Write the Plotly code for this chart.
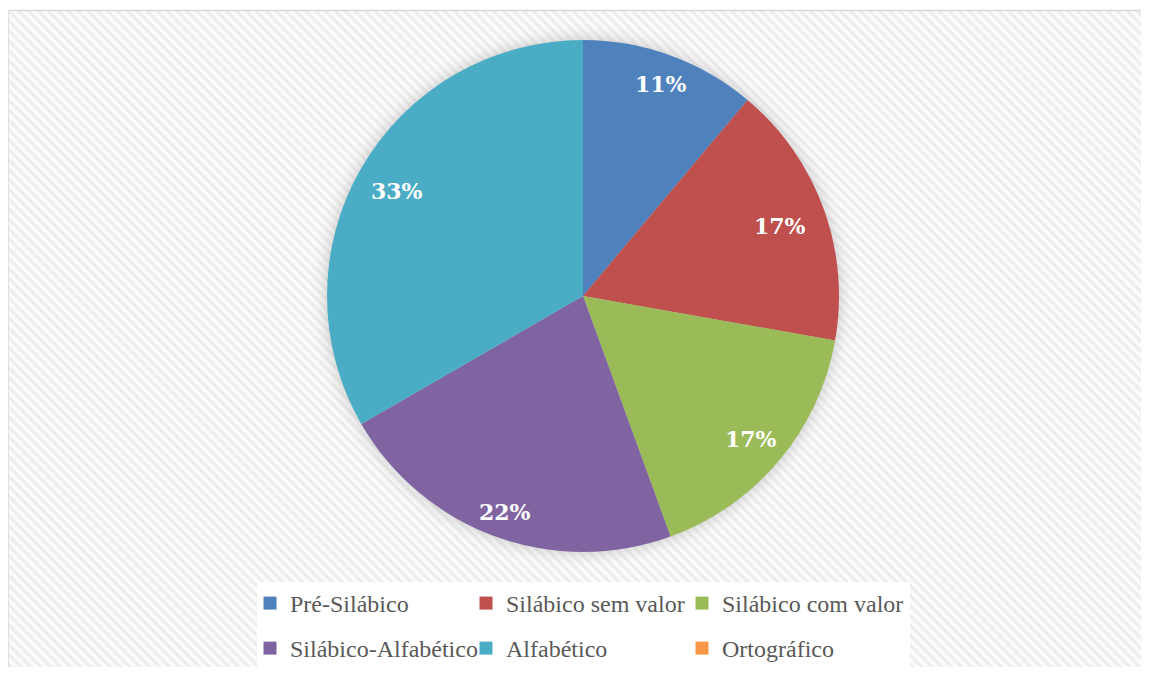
import base64
import numpy as np
import plotly.graph_objects as go

# dados
categorias = ["Pré-Silábico", "Silábico sem valor", "Silábico com valor",
              "Silábico-Alfabético", "Alfabético", "Ortográfico"]
alunos = [2, 3, 3, 4, 6, 0]
cores = ["#4F81BD", "#C0504D", "#9BBB59", "#8064A2", "#4BACC6", "#F79646"]

# page body has an 8px margin, so the figure is a bit smaller than the window
W, H = 1141, 659
L, R, T, B = 100, 100, 32, 115
gw, gh = W - L - R, H - T - B
cx, cy, rad = 575, T + gh / 2, 256

# hatched background, border and a soft shadow round the pie
svg = f"""<svg xmlns='http://www.w3.org/2000/svg' width='{W}' height='{H}' viewBox='0 0 {W} {H}' preserveAspectRatio='none'>
<defs>
<pattern id='p' width='7' height='7' patternUnits='userSpaceOnUse' patternTransform='rotate(45)'>
<rect width='7' height='7' fill='#fbfbfb'/><rect width='7' height='3.2' fill='#ededed'/>
</pattern>
<filter id='s' x='-20%' y='-20%' width='140%' height='140%'><feGaussianBlur stdDeviation='7'/></filter>
</defs>
<rect x='0' y='0' width='{W}' height='{H}' fill='white'/>
<rect x='0' y='2.5' width='{W + 10}' height='{H + 10}' fill='url(#p)' stroke='#d9d9d9' stroke-width='1.5'/>
<circle cx='{cx}' cy='{cy}' r='{rad + 2}' fill='#9a9a9a' opacity='0.45' filter='url(#s)'/>
<rect x='249' y='574' width='653' height='90' fill='white'/>
</svg>"""
src = "data:image/svg+xml;base64," + base64.b64encode(svg.encode()).decode()

fig = go.Figure()
fig.add_trace(go.Pie(
    labels=categorias, values=alunos, sort=False, direction="clockwise", rotation=0,
    marker=dict(colors=cores, line=dict(width=0)),
    textinfo="none", hoverinfo="label+percent", showlegend=False,
    domain=dict(x=[(cx - rad - L) / gw, (cx + rad - L) / gw], y=[0, 1]),
))

# legend in two rows of three, like the original
for i, (nome, cor) in enumerate(zip(categorias, cores)):
    fig.add_trace(go.Scatter(
        x=[None], y=[None], mode="markers", name=nome,
        marker=dict(symbol="square", size=13, color=cor),
        legend="legend" if i < 3 else "legend2", hoverinfo="skip",
        legendwidth=205 if i % 3 == 2 else 171,
    ))

# percent labels placed like Excel's
total = sum(alunos)
acc = 0
for v in alunos:
    if v > 0:
        th = 2 * np.pi * (acc + v / 2) / total
        rr = (0.78 + 0.117 * abs(np.cos(th))) * rad
        fig.add_annotation(
            x=(cx - L + rr * np.sin(th)) / gw, y=0.5 + rr * np.cos(th) / gh - 2 / gh,
            xref="paper", yref="paper", xanchor="center", yanchor="middle",
            showarrow=False, text=f"<b>{round(100 * v / total)}%</b>",
            font=dict(family="DejaVu Serif", size=22, color="white"),
        )
    acc += v

leg = dict(
    orientation="h", xref="container", yref="container",
    x=242 / W, xanchor="left", yanchor="top",
    entrywidthmode="pixels", itemsizing="trace",
    font=dict(family="Liberation Serif", size=24, color="#595959"),
    bgcolor="rgba(0,0,0,0)", traceorder="normal",
)
fig.update_layout(
    width=W, height=H,
    margin=dict(l=L, r=R, t=T, b=B, autoexpand=False),
    paper_bgcolor="rgba(0,0,0,0)", plot_bgcolor="rgba(0,0,0,0)",
    xaxis=dict(visible=False), yaxis=dict(visible=False),
    images=[dict(source=src, xref="paper", yref="paper", x=-L / gw, y=1 + T / gh,
                 sizex=W / gw, sizey=H / gh, sizing="stretch", layer="below",
                 xanchor="left", yanchor="top")],
    showlegend=True,
    legend=dict(leg, y=1 - 573 / H),
    legend2=dict(leg, y=1 - 618 / H),
)

fig.write_html("out.html")
